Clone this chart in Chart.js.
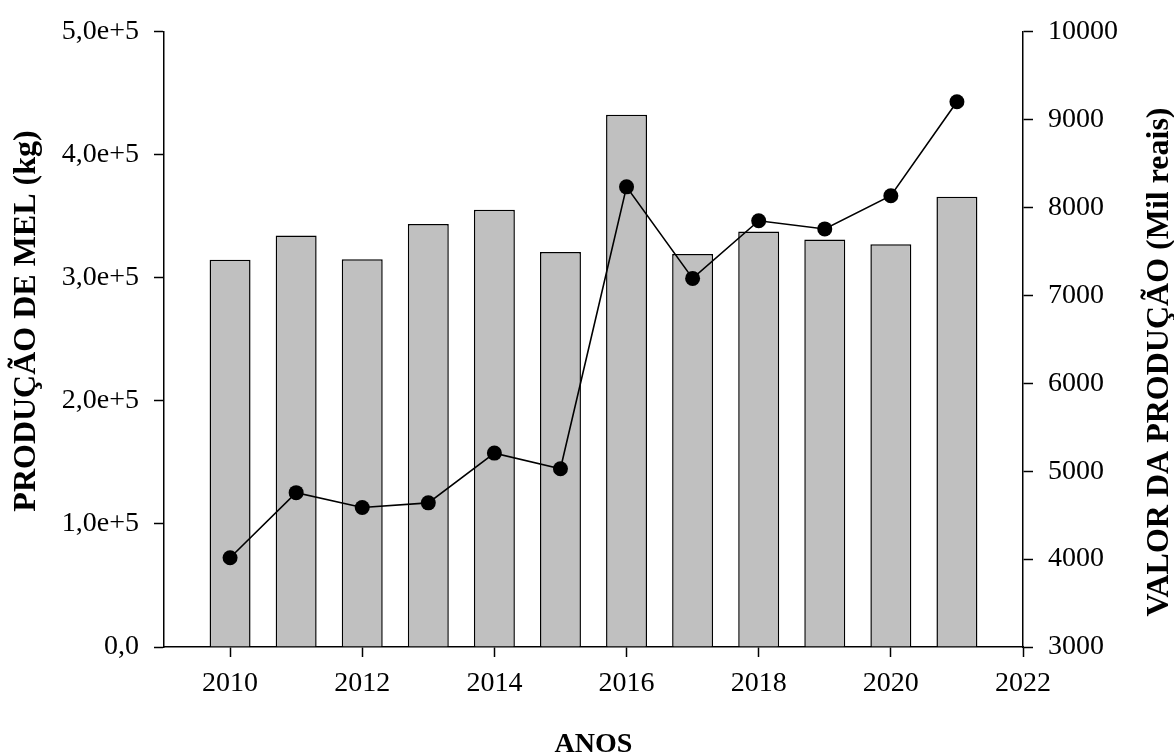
<!DOCTYPE html>
<html lang="pt">
<head>
<meta charset="utf-8">
<title>Produção de mel e valor da produção, 2010–2021</title>
<script src="https://cdn.jsdelivr.net/npm/chart.js@4.4.1/dist/chart.umd.min.js"></script>
<style>
  html, body { margin: 0; padding: 0; background: #ffffff; }
  #wrap { width: 1174px; height: 755px; position: relative; }
</style>
</head>
<body>
<div id="wrap"><canvas id="chart" width="1174" height="755"></canvas></div>
<script>
// Anos da série
const years = [2010, 2011, 2012, 2013, 2014, 2015, 2016, 2017, 2018, 2019, 2020, 2021];
// Produção de mel (kg) — barras, eixo esquerdo
const honeyKg = [314700, 334400, 315100, 343800, 355300, 321000, 432500, 319500, 337600, 331200, 327400, 366000];
// Valor da produção (mil reais) — linha, eixo direito
const valueThousandBRL = [4016, 4756, 4587, 4640, 5206, 5029, 8236, 7194, 7850, 7757, 8135, 9204];

// Marcas dos eixos
const xTicks = [2010, 2012, 2014, 2016, 2018, 2020, 2022];
const leftTicks = [0, 100000, 200000, 300000, 400000, 500000];
const rightTicks = [3000, 4000, 5000, 6000, 7000, 8000, 9000, 10000];

// Títulos
const xTitle = 'ANOS';
const leftTitle = 'PRODUÇÃO DE MEL (kg)';
const rightTitle = 'VALOR DA PRODUÇÃO (Mil reais)';

const SERIF = "'Liberation Serif', 'Times New Roman', Times, serif";
const tickFont = { family: SERIF, size: 28, lineHeight: 1.2 };
const AXIS = '#000000';

function fmtLeft(v) {
  if (v === 0) return '0,0';
  return (v / 1e5).toFixed(1).replace('.', ',') + 'e+5';
}

// Títulos dos eixos desenhados no canvas, ambos verticais lidos de baixo para cima
const axisTitles = {
  id: 'axisTitles',
  afterDraw(chart) {
    const { ctx, chartArea } = chart;
    ctx.save();
    ctx.fillStyle = '#000';
    ctx.textAlign = 'center';
    ctx.textBaseline = 'middle';

    ctx.font = `bold 28px ${SERIF}`;
    ctx.fillText(xTitle, (chartArea.left + chartArea.right) / 2, 745);

    ctx.font = `bold 32px ${SERIF}`;
    ctx.save();
    ctx.translate(27, 321);
    ctx.rotate(-Math.PI / 2);
    ctx.fillText(leftTitle, 0, 0);
    ctx.restore();

    ctx.save();
    ctx.translate(1160, 362);
    ctx.rotate(-Math.PI / 2);
    ctx.fillText(rightTitle, 0, 0);
    ctx.restore();

    ctx.restore();
  }
};

const axisLine = { display: true, color: AXIS, width: 1.5 };
const tickGrid = {
  display: true,
  drawOnChartArea: false,
  drawTicks: true,
  tickLength: 10,
  tickColor: AXIS,
  tickWidth: 1.5,
  offset: false
};

new Chart(document.getElementById('chart'), {
  type: 'bar',
  data: {
    datasets: [
      {
        type: 'line',
        label: rightTitle,
        data: years.map((x, i) => ({ x, y: valueThousandBRL[i] })),
        yAxisID: 'y1',
        xAxisID: 'x',
        borderColor: '#000',
        borderWidth: 1.6,
        backgroundColor: '#000',
        pointRadius: 7.5,
        pointBorderWidth: 0,
        pointBackgroundColor: '#000',
        tension: 0,
        order: 0
      },
      {
        type: 'bar',
        label: leftTitle,
        data: years.map((x, i) => ({ x, y: honeyKg[i] })),
        yAxisID: 'y',
        xAxisID: 'x',
        backgroundColor: '#c0c0c0',
        borderColor: '#000',
        borderWidth: 1.5,
        borderSkipped: 'bottom',
        categoryPercentage: 1,
        barPercentage: 0.62,
        order: 1
      }
    ]
  },
  options: {
    responsive: false,
    animation: false,
    devicePixelRatio: 1,
    layout: { padding: { top: 25, left: 0, right: 0, bottom: 0 } },
    plugins: {
      legend: { display: false },
      tooltip: { enabled: false },
      title: { display: false }
    },
    scales: {
      x: {
        type: 'linear',
        position: 'bottom',
        min: 2009,
        max: 2022,
        offset: false,
        grid: tickGrid,
        border: axisLine,
        afterBuildTicks: s => { s.ticks = xTicks.map(v => ({ value: v })); },
        afterFit: s => { s.height = 108; },
        ticks: {
          color: '#000',
          font: tickFont,
          padding: 10,
          maxRotation: 0,
          autoSkip: false,
          callback: v => String(v)
        }
      },
      y: {
        type: 'linear',
        position: 'left',
        min: 0,
        max: 500000,
        grid: tickGrid,
        border: axisLine,
        afterBuildTicks: s => { s.ticks = leftTicks.map(v => ({ value: v })); },
        afterFit: s => { s.width = 164; },
        ticks: {
          color: '#000',
          font: tickFont,
          padding: 15,
          callback: v => fmtLeft(v)
        }
      },
      y1: {
        type: 'linear',
        position: 'right',
        min: 3000,
        max: 10000,
        grid: tickGrid,
        border: axisLine,
        afterBuildTicks: s => { s.ticks = rightTicks.map(v => ({ value: v })); },
        afterFit: s => { s.width = 151; },
        ticks: {
          color: '#000',
          font: tickFont,
          padding: 15,
          callback: v => String(v)
        }
      }
    }
  },
  plugins: [axisTitles]
});
</script>
</body>
</html>
